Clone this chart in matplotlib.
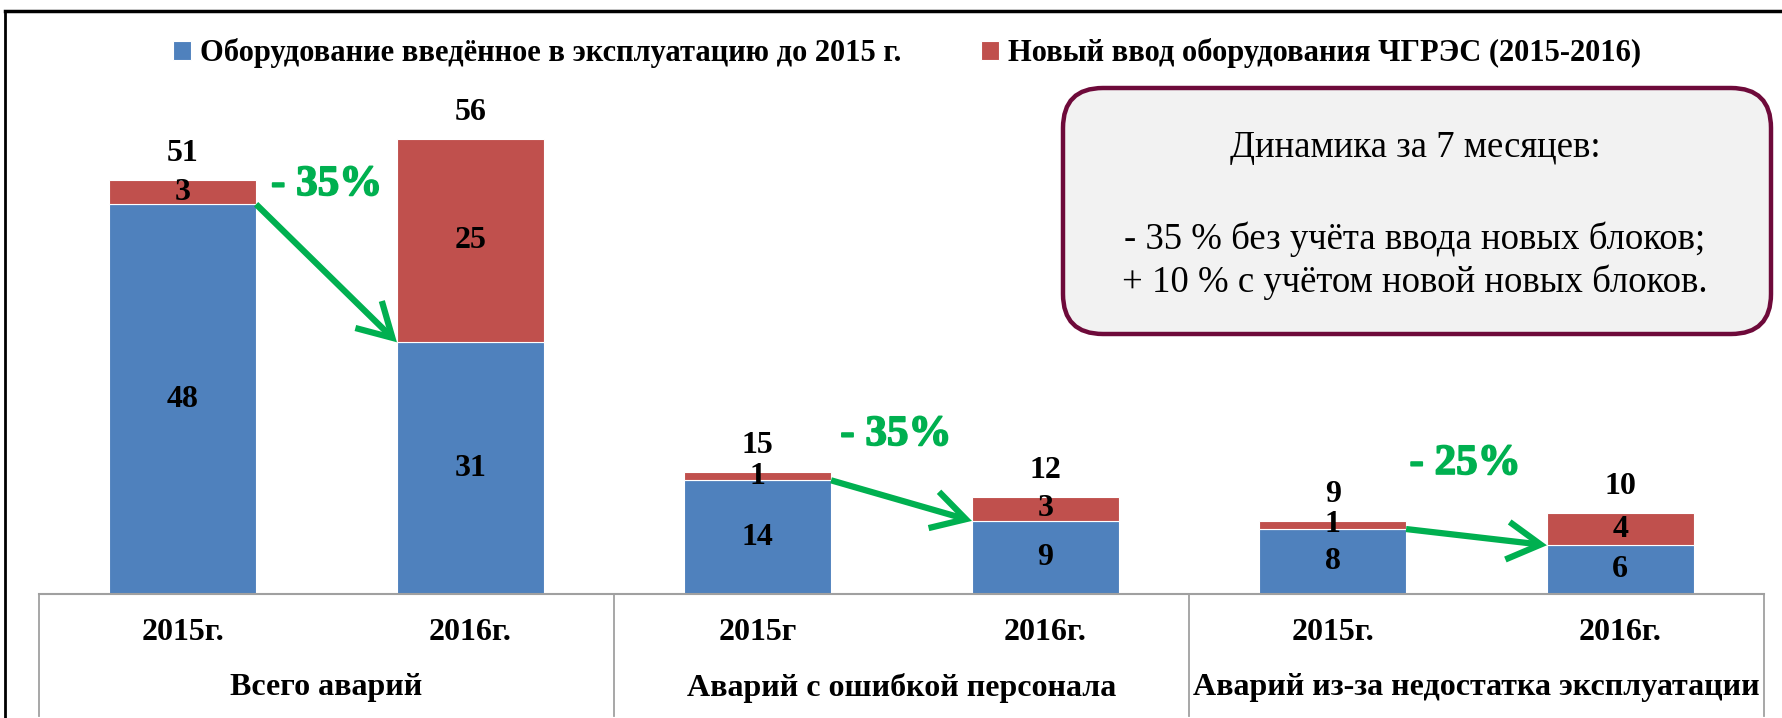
import matplotlib
matplotlib.use("Agg")
import matplotlib.pyplot as plt
import matplotlib.transforms as mtransforms
import matplotlib.patheffects as pe
from matplotlib.patches import FancyBboxPatch, FancyArrowPatch
from matplotlib.lines import Line2D

plt.rcParams['font.family'] = ['Liberation Serif', 'DejaVu Serif']

# ---- data ----
years = ["2015г.", "2016г.", "2015г", "2016г.", "2015г.", "2016г."]
groups = ["Всего аварий", "Аварий с ошибкой персонала", "Аварий из-за недостатка эксплуатации"]
old_equipment = [48, 31, 14, 9, 8, 6]
new_equipment = [3, 25, 1, 3, 1, 4]
totals = [51, 56, 15, 12, 9, 10]
series_names = ["Оборудование введённое в эксплуатацию до 2015 г.",
                "Новый ввод оборудования ЧГРЭС (2015-2016)"]
changes = ["- 35%", "- 35%", "- 25%"]
box_lines = ["Динамика за 7 месяцев:", "", "- 35 % без учёта ввода новых блоков;",
             "+ 10 % с учётом новой новых блоков."]

BLUE = "#4F81BD"
RED = "#C0504D"
GREEN = "#00B050"
GRID = "#A0A0A0"

W, H = 1783, 718
fig = plt.figure(figsize=(W / 100, H / 100), dpi=100)

def fx(px):
    return px / W

def fy(py):
    return 1 - py / H

# axes: x from 39 to 1764 px, baseline at 594 px
ymax = 62
px_per_unit = 8.12
top_px = 594 - ymax * px_per_unit
ax = fig.add_axes([fx(39), fy(594), fx(1764) - fx(39), (594 - top_px) / H])

x = list(range(len(years)))
bw = 0.51
b1 = ax.bar(x, old_equipment, bw, color=BLUE, edgecolor="white", linewidth=0.8,
            label=series_names[0], zorder=2)
b2 = ax.bar(x, new_equipment, bw, bottom=old_equipment, color=RED, edgecolor="white",
            linewidth=0.8, label=series_names[1], zorder=2)

ax.set_xlim(-0.5, len(years) - 0.5)
ax.set_ylim(0, ymax)
ax.axis("off")

num_fs = 23
for i in x:
    ax.text(i, old_equipment[i] / 2, str(old_equipment[i]), ha="center", va="center",
            fontsize=num_fs, fontweight="bold", zorder=3)
    ax.text(i, old_equipment[i] + new_equipment[i] / 2, str(new_equipment[i]),
            ha="center", va="center", fontsize=num_fs, fontweight="bold", zorder=3)
    ax.annotate(str(totals[i]), (i, old_equipment[i] + new_equipment[i]),
                xytext=(0, 19), textcoords="offset points", ha="center", va="center",
                fontsize=num_fs, fontweight="bold")

# category table
bt = mtransforms.blended_transform_factory(ax.transData, fig.transFigure)
ax.plot([-0.5, len(years) - 0.5], [fy(594), fy(594)], transform=bt, color=GRID,
        lw=1.5, clip_on=False)
for gx in [-0.5, 1.5, 3.5, 5.5]:
    ax.plot([gx, gx], [fy(594), fy(716)], transform=bt, color=GRID, lw=1.3, clip_on=False)
for i, lab in enumerate(years):
    ax.text(i, fy(632), lab, transform=bt, ha="center", va="center",
            fontsize=num_fs, fontweight="bold")
for g, lab in enumerate(groups):
    ax.text(2 * g + 0.5, fy(688), lab, transform=bt, ha="center", va="center",
            fontsize=num_fs, fontweight="bold")

# arrows and percentage changes
for g in range(len(groups)):
    i0, i1 = 2 * g, 2 * g + 1
    arr = FancyArrowPatch((i0 + bw / 2, old_equipment[i0]), (i1 - bw / 2, old_equipment[i1]),
                          arrowstyle="->,head_length=15,head_width=8.5", color=GREEN,
                          lw=4.5, mutation_scale=1.6, zorder=4, shrinkA=0, shrinkB=0,
                          joinstyle="miter", capstyle="butt")
    ax.add_patch(arr)
pct_pos = [(0.50, 185), (2.48, 435), (4.46, 464)]
for g, (xpos, ypx) in enumerate(pct_pos):
    ax.text(xpos, fy(ypx), changes[g], transform=bt,
            ha="center", va="center", fontsize=31, fontweight="bold", color=GREEN,
            path_effects=[pe.withStroke(linewidth=1.2, foreground=GREEN)])

# legend
fig.legend(handles=[b1, b2], labels=series_names, loc="center", ncol=2,
           bbox_to_anchor=(fx(907), fy(53)), frameon=False,
           prop={"size": 22, "weight": "bold"}, handlelength=0.6, handleheight=0.6,
           handletextpad=0.3, columnspacing=2.6)

# info box
bx0, by0, bx1, by1 = 1060, 85, 1774, 337
bax = fig.add_axes([fx(bx0), fy(by1), fx(bx1) - fx(bx0), (by1 - by0) / H])
bax.set_xlim(0, bx1 - bx0)
bax.set_ylim(0, by1 - by0)
bax.axis("off")
r = 40
patch = FancyBboxPatch((r + 3, r + 3), (bx1 - bx0) - 2 * r - 6, (by1 - by0) - 2 * r - 6,
                       boxstyle=f"round,pad={r},rounding_size={r}",
                       facecolor="#F2F2F2", edgecolor="#6E0A3A", linewidth=3.2,
                       clip_on=False)
bax.add_patch(patch)
line_y = [148, 193, 239, 282]
for txt, ly in zip(box_lines, line_y):
    if txt:
        bax.text((bx1 - bx0) / 2 - 2, by1 - ly, txt, ha="center", va="center", fontsize=26.5)

# outer frame (top and left)
fig.add_artist(Line2D([fx(5), 1], [fy(11), fy(11)], color="black", lw=2.5))
fig.add_artist(Line2D([fx(5), fx(5)], [fy(11), 0], color="black", lw=2.0))

fig.savefig("out.png", dpi=100)
